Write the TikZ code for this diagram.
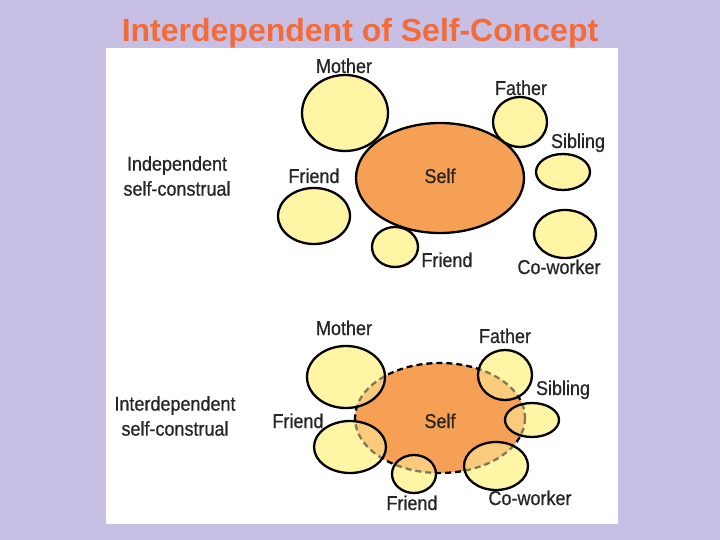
\documentclass[tikz,border=0pt]{standalone}
\usepackage{fontspec}
\setmainfont{Liberation Sans}
\newfontfamily\labelfont[FakeStretch=0.9, FakeBold=0.6]{Liberation Sans}
\definecolor{slidebg}{HTML}{C8C0E4}
\definecolor{titleorange}{HTML}{F26B3A}
\definecolor{selforange}{HTML}{F5A055}
\definecolor{otheryellow}{HTML}{FFF5A5}
\tikzset{
  lbl/.style={font=\labelfont\fontsize{20}{24}\selectfont, anchor=base, text=black!85},
  sidelbl/.style={font=\labelfont\fontsize{20}{25}\selectfont, align=center, text=black!85},
  other/.style={draw=black, line width=2.3pt, fill=otheryellow},
  selfring/.style={draw=black, line width=2.3pt, fill=selforange},
}
\begin{document}
\begin{tikzpicture}[x=1pt, y=-1pt]
    % Slide background and white panel (pixel coordinates, y downwards)
    \fill[slidebg] (0,0) rectangle (720,540);
    \fill[white] (106,48) rectangle (618,524);
    \node[font=\bfseries\fontsize{32}{36}\selectfont, text=titleorange, anchor=base] (title) at (360,42) {Interdependent of Self-Concept};

    % Independent self-construal: the others stay outside the self
    \draw[selfring] (440,178) ellipse [x radius=84, y radius=55];
    \foreach \x/\y/\rx/\ry in {345/113/43/38, 520/122/27/25, 563/172/27/18, 565/234/31/24, 314/216/36/28, 395/247/23/20} {
        \draw[other] (\x,\y) ellipse [x radius=\rx, y radius=\ry];
    }
    \node[sidelbl] (indep) at (177,176) {Independent\\self-construal};
    \node[lbl] (self1) at (440,183) {Self};
    \node[lbl] (mother1) at (344,73) {Mother};
    \node[lbl] (father1) at (521,95) {Father};
    \node[lbl] (sibling1) at (578,148) {Sibling};
    \node[lbl] (friendl1) at (314,183) {Friend};
    \node[lbl] (friendb1) at (447,267) {Friend};
    \node[lbl] (cowork1) at (559,274) {Co-worker};

    % Interdependent self-construal: the others overlap the self
    \foreach \x/\y/\rx/\ry in {346/377/39/31, 505/375/27/25, 532/420/27/17, 350/447/36/26, 414/474/22/19, 496/466/32/24} {
        \fill[otheryellow] (\x,\y) ellipse [x radius=\rx, y radius=\ry];
    }
    \draw[selfring, dash pattern=on 6pt off 4pt] (440,418) ellipse [x radius=85, y radius=55];
    \foreach \x/\y/\rx/\ry in {346/377/39/31, 505/375/27/25, 532/420/27/17, 350/447/36/26, 414/474/22/19, 496/466/32/24} {
        \draw[other, fill opacity=0.5] (\x,\y) ellipse [x radius=\rx, y radius=\ry];
    }
    \node[sidelbl] (interdep) at (175,416) {Interdependent\\self-construal};
    \node[lbl] (self2) at (440,428) {Self};
    \node[lbl] (mother2) at (344,335) {Mother};
    \node[lbl] (father2) at (505,343) {Father};
    \node[lbl] (sibling2) at (563,395) {Sibling};
    \node[lbl] (friendl2) at (298,428) {Friend};
    \node[lbl] (friendb2) at (412,510) {Friend};
    \node[lbl] (cowork2) at (530,505) {Co-worker};
\end{tikzpicture}
\end{document}
